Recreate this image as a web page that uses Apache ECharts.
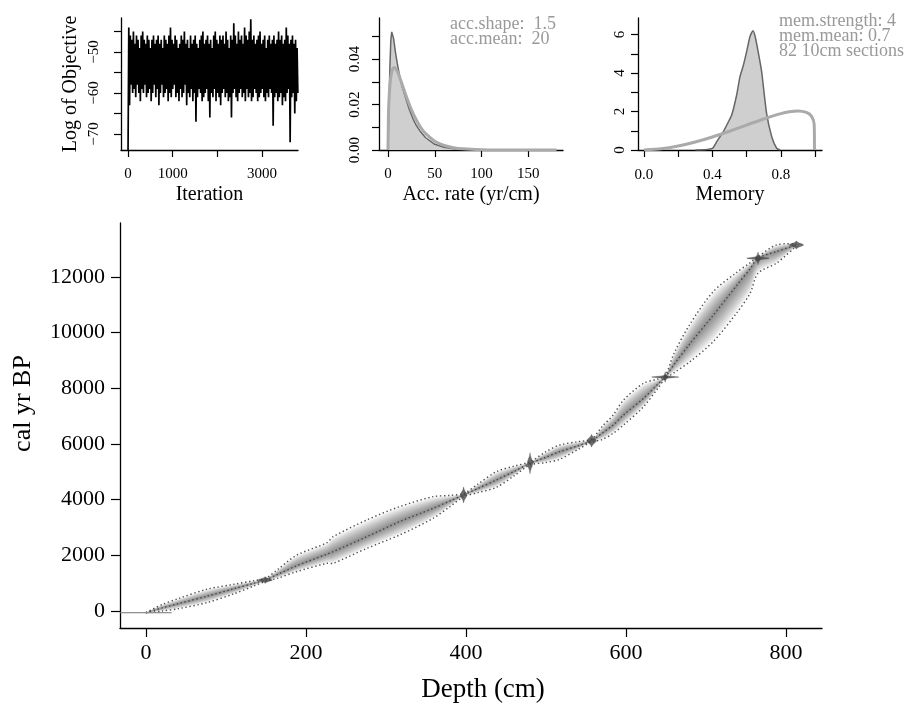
<!DOCTYPE html>
<html><head><meta charset="utf-8">
<script src="https://cdn.jsdelivr.net/npm/echarts@6/dist/echarts.min.js"></script>
<style>html,body{margin:0;padding:0;background:#fff}#c{width:914px;height:703px}</style>
</head><body><div id="c"></div>
<script>
// ---------- MCMC trace (Log of Objective), read as alternating peaks / troughs ----------
const traceStart = -75;
const traceHighs = [-44,-46,-47,-45,-48,-46,-47,-49,-46,-45,
 -47,-48,-46,-47,-49,-47,-46,-48,-47,-46,
 -48,-47,-49,-46,-47,-48,-46,-44,-47,-48,
 -46,-47,-49,-48,-46,-47,-45,-48,-47,-49,
 -46,-48,-47,-46,-48,-49,-47,-46,-45,-48,
 -47,-46,-48,-47,-49,-46,-45,-47,-48,-46,
 -47,-46,-48,-45,-47,-49,-46,-47,-43,-46,
 -48,-45,-47,-46,-48,-44,-46,-47,-45,-42,
 -47,-46,-48,-47,-46,-45,-48,-47,-46,-49,
 -47,-46,-48,-47,-46,-48,-47,-45,-47,-46,
 -48,-47,-44,-46,-48,-47,-46,-48,-47,-49];
const traceLows = [-63,-58,-60,-59,-61,-58,-60,-62,-59,-60,
 -58,-61,-60,-59,-62,-60,-58,-61,-59,-63,
 -60,-58,-61,-60,-59,-62,-60,-61,-59,-58,
 -61,-60,-62,-59,-61,-60,-58,-63,-60,-61,
 -59,-62,-60,-67,-61,-59,-60,-62,-61,-60,
 -59,-62,-66,-60,-61,-59,-62,-60,-61,-63,
 -60,-59,-61,-60,-62,-61,-66,-60,-59,-61,
 -62,-60,-59,-61,-60,-62,-59,-61,-60,-62,
 -61,-59,-60,-62,-61,-60,-59,-61,-62,-60,
 -61,-59,-60,-68,-61,-60,-62,-61,-60,-63,
 -61,-62,-60,-59,-72,-61,-60,-65,-62,-60];
const lastIteration = 3800;

// ---------- accumulation rate ----------
const accPostX = [0,1,2,3,4,4.5,5,6,8,10,12,15,20,23,27,30,34,40,50,60,70,80,100,120,180];
const accPostY = [0,0.018,0.036,0.048,0.052,0.0525,0.052,0.049,0.043,0.038,0.0335,0.028,0.0215,0.0176,0.0135,0.011,0.0085,0.0055,0.0025,0.0012,0.0006,0.0003,0.0001,0,0];
const accPriorX = [0,0.5,1,2,3,4,5,6.67,8,10,12,15,20,25,30,35,40,50,60,70,80,100,120,150,180];
const accPriorY = [0,0.0158,0.0215,0.0282,0.0321,0.0343,0.0356,0.0363,0.036,0.0346,0.0326,0.0291,0.0231,0.0178,0.0134,0.0099,0.0073,0.0039,0.002,0.001,0.0005,0.00013,0.00003,0,0];
const accText = ['acc.shape:  1.5','acc.mean:  20'];

// ---------- memory ----------
const memPostX = [0.30,0.35,0.40,0.43,0.464,0.49,0.513,0.542,0.561,0.581,0.60,0.62,0.637,0.65,0.67,0.688,0.717,0.747,0.776,0.796];
const memPostY = [0,0.01,0.08,0.5,0.95,1.4,1.82,2.86,3.8,4.4,5.1,5.9,6.2,5.9,5.0,4.07,1.9,0.69,0.09,0];
const memPriorX = [0,0.1,0.2,0.3,0.4,0.5,0.6,0.7,0.8,0.85,0.9,0.95,0.98,0.995,0.997];
const memPriorY = [0,0.06,0.206,0.415,0.676,0.974,1.296,1.611,1.89,1.99,2.03,1.95,1.75,1.35,0];
const memText = ['mem.strength: 4','mem.mean: 0.7','82 10cm sections'];

// ---------- age-depth model ----------
const depths  = [0,20,40,76,110,135,149,165,188,226,234,276,317,359,380,397,415,438,460,480,500,517,540,557,570,584,597,622,640,649,660,680,709,738,755,765,788,813];
const ageMean = [-60,110,260,530,800,1000,1113,1320,1620,2040,2130,2668,3208,3687,3950,4165,4400,4704,5010,5303,5520,5721,5930,6116,6380,6679,7038,7637,8150,8400,8850,9600,10617,11677,12280,12664,12902,13142];
const ageMin  = [-70,0,80,300,620,900,1060,1180,1410,1710,1712,2251,2729,3329,3750,4100,4250,4441,4850,5240,5330,5446,5800,6070,6150,6380,6679,7337,8000,8340,8550,8953,9670,10689,11400,12125,12485,13100];
const ageMax  = [-50,230,440,780,960,1090,1170,1500,2000,2450,2668,3268,3746,4105,4150,4220,4560,5002,5200,5360,5720,5960,6080,6170,6620,7038,7576,8176,8330,8450,9250,10300,11466,12149,12500,12720,13142,13180];

// calibrated dates: depth, age, age half-spread, depth half-width
const dateDepth = [0,149,397,480,557,649,649,765,765,813];
const dateAge   = [-60,1113,4165,5303,6116,8400,8400,12664,12664,13142];
const dateSpread= [6,90,230,300,180,50,150,60,180,110];
const dateWidth = [32,9,4,3.5,6,17,2.5,14,3,9];

const xTicksMain = [0,200,400,600,800];
const yTicksMain = [0,2000,4000,6000,8000,10000,12000];

const serif = 'Liberation Serif';
const axisLineStyle = {onZero:false, lineStyle:{color:'#000',width:1.3}};
function tickStyle(len){return {show:true,length:len,inside:false,lineStyle:{color:'#000',width:1.2}};}
const plain = v => String(v);

const traceData = [[0, traceStart]];
const nPts = traceHighs.length*2;
for (let i=0;i<traceHighs.length;i++){
  traceData.push([(2*i+1)*lastIteration/nPts, traceHighs[i]]);
  traceData.push([(2*i+2)*lastIteration/nPts, traceLows[i]]);
}
const zip = (a,b)=>a.map((v,i)=>[v,b[i]]);

const levels = 12;
function bandItem(params, api){
  const k = api.value(0);
  const f = k/levels*0.95;
  const up=[], lo=[];
  for (let i=0;i<depths.length;i++){
    up.push(api.coord([depths[i], ageMean[i] + f*(ageMax[i]-ageMean[i])]));
    lo.push(api.coord([depths[i], ageMean[i] - f*(ageMean[i]-ageMin[i])]));
  }
  return {type:'polygon', shape:{points: up.concat(lo.reverse()), smooth:0.3}, style:{fill:'rgba(0,0,0,0.045)'}};
}
function linesItem(params, api){
  const arrs=[ageMean, ageMin, ageMax];
  const children = arrs.map(arr=>({
    type:'polyline',
    shape:{points: depths.map((d,i)=>api.coord([d, arr[i]])), smooth:0.3},
    style:{stroke:'rgba(60,60,60,0.9)', lineWidth:1.4, lineDash:[1.4,2.6], fill:null}
  }));
  return {type:'group', children};
}
function dateItem(params, api){
  const d=api.value(0), a=api.value(1), s=api.value(2), w=api.value(3);
  const right=[], left=[];
  for (let t=-2.5;t<=2.501;t+=0.25){
    const h = w*Math.exp(-t*t/2);
    right.push(api.coord([d+h, a+t*s/2]));
    left.push(api.coord([d-h, a+t*s/2]));
  }
  const surface = params.dataIndex===0;
  return {type:'polygon', shape:{points:right.concat(left.reverse())},
    style:{fill: surface?'rgba(140,140,140,0.9)':'rgba(70,70,70,0.8)', stroke: surface?'rgba(140,140,140,0.9)':'rgba(70,70,70,0.5)', lineWidth: surface?1:0.5}};
}

const gridCommon = {outerBoundsMode:'none', containLabel:false};
const option = {
  animation:false,
  backgroundColor:'#fff',
  textStyle:{fontFamily:serif},
  grid:[
    Object.assign({left:121, top:18, width:177, height:132}, gridCommon),
    Object.assign({left:379, top:18, width:184, height:132}, gridCommon),
    Object.assign({left:638, top:18, width:184, height:132}, gridCommon),
    Object.assign({left:120, top:223, width:702, height:405}, gridCommon)
  ],
  xAxis:[
    {gridIndex:0, type:'value', min:-157, max:3803, splitLine:{show:false}, axisLine:axisLineStyle,
     axisTick:Object.assign(tickStyle(7),{customValues:[0,1000,2000,3000]}),
     axisLabel:{customValues:[0,1000,3000], formatter:plain, color:'#000', fontFamily:serif, fontSize:15, margin:17},
     name:'Iteration', nameLocation:'middle', nameGap:35, nameTextStyle:{fontFamily:serif, fontSize:20, color:'#000'}},
    {gridIndex:1, type:'value', min:-9.6, max:187, splitLine:{show:false}, axisLine:axisLineStyle,
     axisTick:Object.assign(tickStyle(7),{customValues:[0,50,100,150]}),
     axisLabel:{customValues:[0,50,100,150], formatter:plain, color:'#000', fontFamily:serif, fontSize:15, margin:17},
     name:'Acc. rate (yr/cm)', nameLocation:'middle', nameGap:35, nameTextStyle:{fontFamily:serif, fontSize:20, color:'#000'}},
    {gridIndex:2, type:'value', min:-0.035, max:1.041, splitLine:{show:false}, axisLine:axisLineStyle,
     axisTick:Object.assign(tickStyle(7),{customValues:[0,0.2,0.4,0.6,0.8,1.0]}),
     axisLabel:{customValues:[0,0.4,0.8], formatter:v=>v.toFixed(1), color:'#000', fontFamily:serif, fontSize:15, margin:18},
     name:'Memory', nameLocation:'middle', nameGap:35, nameTextStyle:{fontFamily:serif, fontSize:20, color:'#000'}},
    {gridIndex:3, type:'value', min:-32.5, max:845, splitLine:{show:false}, axisLine:axisLineStyle,
     axisTick:Object.assign(tickStyle(9),{customValues:xTicksMain}),
     axisLabel:{customValues:xTicksMain, formatter:plain, color:'#000', fontFamily:serif, fontSize:22, margin:14},
     name:'Depth (cm)', nameLocation:'middle', nameGap:48, nameTextStyle:{fontFamily:serif, fontSize:27, color:'#000', padding:[0,0,0,24]}}
  ],
  yAxis:[
    {gridIndex:0, type:'value', min:-73.9, max:-41.7, splitLine:{show:false}, axisLine:axisLineStyle,
     axisTick:Object.assign(tickStyle(7),{customValues:[-45,-50,-55,-60,-65,-70]}),
     axisLabel:{customValues:[-50,-60,-70], formatter:v=>'\u2212'+Math.abs(v), rotate:90, color:'#000', fontFamily:serif, fontSize:15, margin:19},
     name:'Log of Objective', nameLocation:'middle', nameGap:40, nameTextStyle:{fontFamily:serif, fontSize:20, color:'#000'}},
    {gridIndex:1, type:'value', min:0, max:0.0581, splitLine:{show:false}, axisLine:axisLineStyle,
     axisTick:Object.assign(tickStyle(7),{customValues:[0,0.01,0.02,0.03,0.04,0.05]}),
     axisLabel:{customValues:[0,0.02,0.04], formatter:v=>v.toFixed(2), rotate:90, color:'#000', fontFamily:serif, fontSize:15, margin:16}},
    {gridIndex:2, type:'value', min:0, max:6.86, splitLine:{show:false}, axisLine:axisLineStyle,
     axisTick:Object.assign(tickStyle(7),{customValues:[0,1,2,3,4,5,6]}),
     axisLabel:{customValues:[0,2,4,6], formatter:plain, rotate:90, color:'#000', fontFamily:serif, fontSize:15, margin:10}},
    {gridIndex:3, type:'value', min:-610, max:13930, splitLine:{show:false}, axisLine:axisLineStyle,
     axisTick:Object.assign(tickStyle(9),{customValues:yTicksMain}),
     axisLabel:{customValues:yTicksMain, formatter:plain, color:'#000', fontFamily:serif, fontSize:22, margin:15},
     name:'cal yr BP', nameLocation:'middle', nameGap:84, nameTextStyle:{fontFamily:serif, fontSize:26, color:'#000', padding:[0,0,0,44]}}
  ],
  graphic:[
    ...accText.map((t,i)=>({type:'text', x:450, y:24+i*15, style:{text:t, font:'18px "Liberation Serif"', fill:'#999', verticalAlign:'middle'}})),
    ...memText.map((t,i)=>({type:'text', x:779, y:21+i*15, style:{text:t, font:'18px "Liberation Serif"', fill:'#999', verticalAlign:'middle'}}))
  ],
  series:[
    {type:'line', xAxisIndex:0, yAxisIndex:0, data:traceData, showSymbol:false, symbol:'none', clip:true,
     lineStyle:{color:'#000', width:1.7}},
    {type:'line', xAxisIndex:1, yAxisIndex:1, data:zip(accPostX,accPostY), showSymbol:false, symbol:'none',
     lineStyle:{color:'#666', width:1.5}, areaStyle:{color:'#cfcfcf', opacity:1}},
    {type:'line', xAxisIndex:1, yAxisIndex:1, data:zip(accPriorX,accPriorY), showSymbol:false, symbol:'none', smooth:0.3,
     lineStyle:{color:'#aaa', width:3}},
    {type:'line', xAxisIndex:2, yAxisIndex:2, data:zip(memPostX,memPostY), showSymbol:false, symbol:'none', smooth:0.2,
     lineStyle:{color:'#666', width:1.5}, areaStyle:{color:'#cfcfcf', opacity:1}},
    {type:'line', xAxisIndex:2, yAxisIndex:2, data:zip(memPriorX,memPriorY), showSymbol:false, symbol:'none', smooth:0.2,
     lineStyle:{color:'#aaa', width:3}},
    {type:'custom', xAxisIndex:3, yAxisIndex:3, renderItem:bandItem,
     data:Array.from({length:levels},(_,i)=>[i+1,0]), silent:true},
    {type:'custom', xAxisIndex:3, yAxisIndex:3, renderItem:linesItem, data:[[0,0]], silent:true},
    {type:'custom', xAxisIndex:3, yAxisIndex:3, renderItem:dateItem,
     data:dateDepth.map((d,i)=>[d,dateAge[i],dateSpread[i],dateWidth[i]]), silent:true}
  ]
};
const chart = echarts.init(document.getElementById('c'));
chart.setOption(option);
</script>
</body></html>
